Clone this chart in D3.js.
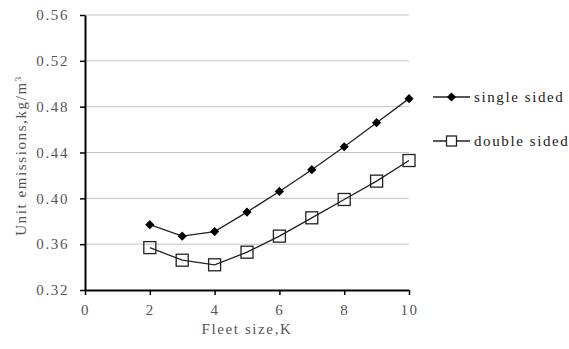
<!DOCTYPE html>
<html>
<head>
<meta charset="utf-8">
<script src="https://cdn.jsdelivr.net/npm/d3@7"></script>
<style>
  body { margin: 0; background: #fff; }
  text { font-family: "Liberation Serif", "DejaVu Serif", serif; letter-spacing: 1.6px; }
</style>
</head>
<body>
<svg id="drawing_region"></svg>
<script>
// data
const fleet_size = [2, 3, 4, 5, 6, 7, 8, 9, 10];
const single_sided = [0.377, 0.367, 0.371, 0.388, 0.406, 0.425, 0.445, 0.466, 0.487];
const double_sided = [0.357, 0.346, 0.342, 0.353, 0.367, 0.383, 0.399, 0.415, 0.433];
const x_ticks = [0, 2, 4, 6, 8, 10];
const y_ticks = [0.32, 0.36, 0.40, 0.44, 0.48, 0.52, 0.56];
const series_names = ['single sided', 'double sided'];

const width = 569, height = 349;
const margin = {top: 15, right: 160, bottom: 59, left: 85};

const svg = d3.select('#drawing_region')
    .attr('width', width)
    .attr('height', height);

const chart = svg.append('g')
    .attr('transform', `translate(${margin.left}, ${margin.top})`);

const inner_width = width - margin.left - margin.right;
const inner_height = height - margin.top - margin.bottom;

const xscale = d3.scaleLinear().domain([0, 10]).range([0, inner_width]);
const yscale = d3.scaleLinear().domain([0.32, 0.56]).range([inner_height, 0]);

// gridlines
chart.selectAll('.grid')
    .data(y_ticks.slice(1))
    .enter()
    .append('line')
    .attr('x1', 0)
    .attr('x2', inner_width)
    .attr('y1', d => yscale(d))
    .attr('y2', d => yscale(d))
    .attr('stroke', '#c4c4c4')
    .attr('stroke-width', 1);

const xaxis = d3.axisBottom(xscale)
    .tickValues(x_ticks)
    .tickFormat(d3.format('d'))
    .tickSizeInner(5)
    .tickSizeOuter(0)
    .tickPadding(9);

const yaxis = d3.axisLeft(yscale)
    .tickValues(y_ticks)
    .tickFormat(d3.format('.2f'))
    .tickSizeInner(5)
    .tickSizeOuter(0)
    .tickPadding(11);

const xaxis_group = chart.append('g')
    .attr('transform', `translate(0, ${inner_height})`)
    .call(xaxis);

const yaxis_group = chart.append('g')
    .call(yaxis);

[xaxis_group, yaxis_group].forEach(g => {
    g.select('.domain').attr('stroke', '#000').attr('stroke-width', 2);
    g.selectAll('.tick line').attr('stroke', '#000').attr('stroke-width', 1.5);
    g.selectAll('.tick text')
        .attr('fill', '#555')
        .style('font-size', '15px')
        .style('font-family', '"Liberation Serif", serif');
});

// axis titles
svg.append('text')
    .attr('x', margin.left + xscale(5))
    .attr('y', 334)
    .attr('text-anchor', 'middle')
    .attr('fill', '#555')
    .style('font-size', '15px')
    .text('Fleet size,K');

const ylab = svg.append('text')
    .attr('transform', `translate(26, ${margin.top + yscale(0.44) + 3}) rotate(-90)`)
    .attr('text-anchor', 'middle')
    .attr('fill', '#555')
    .style('font-size', '15px');
ylab.append('tspan').text('Unit emissions,kg/m');
ylab.append('tspan').attr('dy', -5).style('font-size', '9px').text('3');

// lines
const line = d3.line()
    .x((d, i) => xscale(fleet_size[i]))
    .y(d => yscale(d));

chart.append('path')
    .attr('d', line(single_sided))
    .attr('fill', 'none')
    .attr('stroke', '#222')
    .attr('stroke-width', 1.3);

chart.append('path')
    .attr('d', line(double_sided))
    .attr('fill', 'none')
    .attr('stroke', '#222')
    .attr('stroke-width', 1.3);

// markers: small diamonds (rotated squares)
const dm = 6.5;
chart.selectAll('.single')
    .data(single_sided)
    .enter()
    .append('rect')
    .attr('x', -dm / 2).attr('y', -dm / 2)
    .attr('width', dm).attr('height', dm)
    .attr('transform', (d, i) => `translate(${xscale(fleet_size[i])}, ${yscale(d)}) rotate(45)`)
    .attr('fill', '#000');

const sq = 12;
chart.selectAll('.double')
    .data(double_sided)
    .enter()
    .append('rect')
    .attr('x', (d, i) => xscale(fleet_size[i]) - sq / 2)
    .attr('y', d => yscale(d) - sq / 2)
    .attr('width', sq)
    .attr('height', sq)
    .attr('fill', 'none')
    .attr('stroke', '#222')
    .attr('stroke-width', 1.3);

// legend
const legend = svg.append('g').attr('transform', 'translate(433, 97)');

series_names.forEach((name, i) => {
    const g = legend.append('g').attr('transform', `translate(0, ${i * 44})`);
    g.append('line')
        .attr('x1', 0).attr('x2', 37)
        .attr('y1', 0).attr('y2', 0)
        .attr('stroke', '#222')
        .attr('stroke-width', 1.3);
    if (i === 0) {
        g.append('rect')
            .attr('x', -dm / 2).attr('y', -dm / 2)
            .attr('width', dm).attr('height', dm)
            .attr('transform', 'translate(18.5, 0) rotate(45)')
            .attr('fill', '#000');
    } else {
        g.append('rect')
            .attr('x', 18.5 - 5).attr('y', -5)
            .attr('width', 10).attr('height', 10)
            .attr('fill', '#fff')
            .attr('stroke', '#222')
            .attr('stroke-width', 1.3);
    }
    g.append('text')
        .attr('x', 41)
        .attr('y', 5)
        .attr('fill', '#222')
        .style('font-size', '15px')
        .text(name);
});
</script>
</body>
</html>
